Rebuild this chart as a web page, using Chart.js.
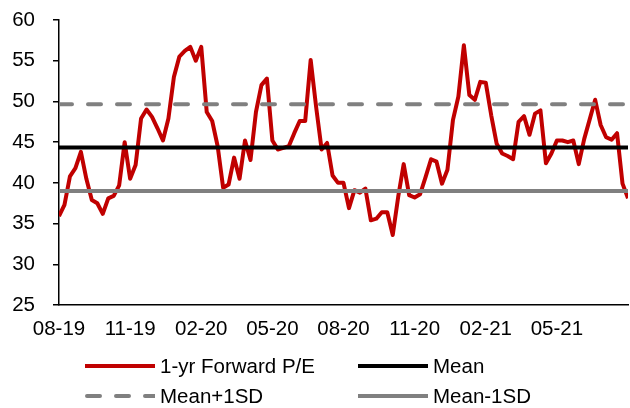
<!DOCTYPE html>
<html><head><meta charset="utf-8">
<script src="https://cdn.jsdelivr.net/npm/chart.js@4.4.1/dist/chart.umd.min.js"></script>
<style>
html,body{margin:0;padding:0;background:#fff;}
#wrap{position:relative;width:630px;height:408px;font-family:"Liberation Sans",Arial,sans-serif;overflow:hidden;}
#c{position:absolute;left:0;top:0;}
.leg{position:absolute;display:flex;align-items:center;font-size:20.5px;color:#000;white-space:nowrap;height:24px;}
.leg svg{margin-right:5px;display:block;}
</style></head><body>
<div id="wrap"><canvas id="c" width="630" height="408"></canvas><div id="legend"></div></div>
<script>
const tickLabels = ['08-19','11-19','02-20','05-20','08-20','11-20','02-21','05-21'];
const peValues = [
 35.9,37.3,40.8,41.8,43.8,40.5,37.9,37.5,36.2,38.1,38.4,39.7,45.0,40.5,42.2,47.9,49.0,48.1,46.7,45.2,
 47.9,53.0,55.5,56.2,56.7,55.0,56.7,48.7,47.6,44.5,39.4,39.8,43.1,40.5,45.2,42.8,48.7,52.0,52.8,45.2,
 44.1,44.3,44.5,46.1,47.6,47.6,55.1,49.3,44.1,44.9,40.9,40.0,40.0,36.9,39.1,38.8,39.3,35.4,35.6,36.4,
 36.4,33.6,38.3,42.3,38.5,38.2,38.6,40.7,42.9,42.6,39.9,41.6,47.7,50.6,56.9,50.8,50.2,52.4,52.3,48.3,
 44.8,43.6,43.3,42.9,47.5,48.2,45.9,48.5,48.9,42.4,43.6,45.2,45.2,45.0,45.2,42.3,45.4,47.8,50.2,47.1,
 45.6,45.3,46.1,39.9,38.1
];
const meanValue = 44.35;
const upperValue = 49.65;
const lowerValue = 39.0;
const seriesNames = ['1-yr Forward P/E','Mean','Mean+1SD','Mean-1SD'];
const seriesColors = ['#C00000','#000000','#808080','#808080'];

const lastIdx = peValues.length - 1;
const flat = v => [{x:0,y:v},{x:lastIdx,y:v}];
const peData = peValues.map((v,i)=>({x:i,y:v}));

const chart = new Chart(document.getElementById('c'), {
  type:'line',
  data:{datasets:[
    {label:seriesNames[0],data:peData,borderColor:seriesColors[0],borderWidth:4,pointRadius:0,tension:0,borderJoinStyle:'round',order:1},
    {label:seriesNames[1],data:flat(meanValue),borderColor:seriesColors[1],borderWidth:4,pointRadius:0,order:0},
    {label:seriesNames[2],data:flat(upperValue),borderColor:seriesColors[2],borderWidth:4,pointRadius:0,borderDash:[13,16],borderCapStyle:'round',order:0},
    {label:seriesNames[3],data:flat(lowerValue),borderColor:seriesColors[3],borderWidth:4,pointRadius:0,order:0}
  ]},
  options:{
    responsive:false,animation:false,
    layout:{padding:{top:20,right:2,left:0,bottom:0}},
    plugins:{legend:{display:false},tooltip:{enabled:false}},
    scales:{
      x:{type:'linear',min:0,max:lastIdx,
        ticks:{stepSize:13,autoSkip:false,maxRotation:0,color:'#000',padding:12,
          font:{family:'"Liberation Sans", Arial, sans-serif',size:20.5},
          callback:(v)=>{const k=v/13;return Number.isInteger(k)&&tickLabels[k]?tickLabels[k]:'';}},
        grid:{display:true,drawOnChartArea:false,drawTicks:false},
        border:{color:'#000',width:1.5},
        afterFit:(s)=>{s.height=103;s.paddingLeft=0;s.paddingRight=0;}
      },
      y:{min:25,max:60,
        ticks:{stepSize:5,color:'#000',padding:18,font:{family:'"Liberation Sans", Arial, sans-serif',size:20.5}},
        grid:{display:true,drawOnChartArea:false,drawTicks:true,tickLength:6,color:'#000',lineWidth:1.5},
        border:{color:'#000',width:1.5},
        afterFit:(s)=>{s.width=59;s.paddingTop=0;s.paddingBottom=0;}
      }
    }
  }
});

// HTML legend built from datasets
const legPos = [[85,354],[358,354],[85,384],[358,384]];
const legEl = document.getElementById('legend');
chart.data.datasets.forEach((ds,i)=>{
  const d = document.createElement('div');
  d.className='leg';
  d.style.left=legPos[i][0]+'px';
  d.style.top=legPos[i][1]+'px';
  const dash = ds.borderDash ? 'stroke-dasharray="13 16" stroke-linecap="round"' : '';
  d.innerHTML = `<svg width="70" height="10"><line x1="${ds.borderDash?2:0}" y1="5" x2="70" y2="5" stroke="${ds.borderColor}" stroke-width="4" ${dash}/></svg><span>${ds.label}</span>`;
  legEl.appendChild(d);
});
</script>
</body></html>
